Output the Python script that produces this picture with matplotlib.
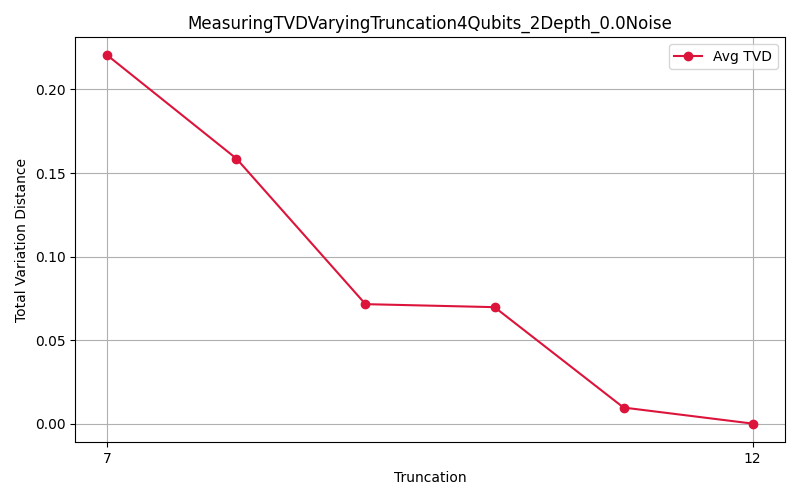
import matplotlib.pyplot as plt

truncation = [7, 8, 9, 10, 11, 12]
avg_tvd = [0.2204, 0.1586, 0.0715, 0.0697, 0.0096, 0.0]

fig, ax = plt.subplots(figsize=(8, 5), dpi=100)
ax.plot(truncation, avg_tvd, marker='o', color='crimson', label='Avg TVD')
ax.set_xticks([truncation[0], truncation[-1]])
ax.set_title('MeasuringTVDVaryingTruncation4Qubits_2Depth_0.0Noise')
ax.set_xlabel('Truncation')
ax.set_ylabel('Total Variation Distance')
ax.grid(True, color='#b0b0b0')
ax.legend(loc='upper right')
plt.subplots_adjust(left=0.094, right=0.981, top=0.926, bottom=0.116)
plt.savefig('out.png', dpi=100)
